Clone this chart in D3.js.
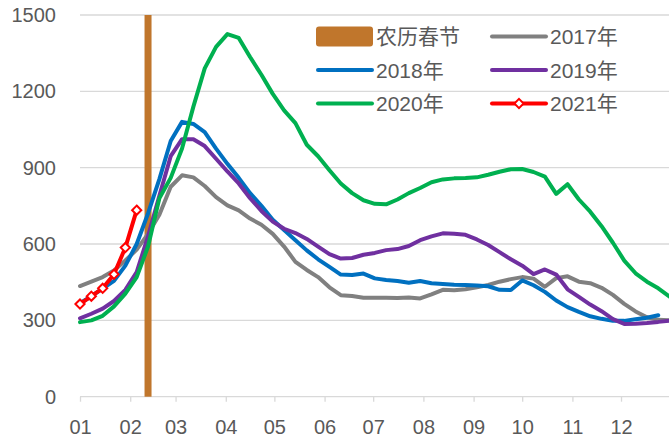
<!DOCTYPE html>
<html>
<head>
<meta charset="utf-8">
<script src="https://cdn.jsdelivr.net/npm/d3@7"></script>
<style>
  html, body { margin: 0; padding: 0; background: #ffffff; }
  svg { display: block; }
  text { font-family: "Liberation Sans", "Noto Sans CJK SC", sans-serif; fill: #595959; }
</style>
</head>
<body>
<svg id="chart" width="669" height="444"></svg>
<script>
// Weekly series, one value per week starting on 1 January
const weekStart = new Date(Date.UTC(2017, 0, 1));

const series2017 = [435, 452, 470, 496, 535, 578, 640, 715, 825, 870, 862, 828, 784, 752, 732, 700,
  676, 640, 590, 530, 498, 470, 430, 399, 396, 389, 389, 389, 388, 390, 386, 402, 420, 418, 422, 430,
  439, 452, 462, 470, 464, 432, 466, 473, 452, 446, 428, 400, 365, 335, 312, 302, 300];
const series2018 = [367, 395, 425, 455, 515, 600, 720, 855, 1005, 1080, 1072, 1040, 975, 915, 860, 800,
  750, 695, 655, 615, 575, 540, 510, 480, 478, 484, 465, 459, 455, 448, 455, 446, 443, 440, 439, 437,
  434, 420, 419, 457, 438, 412, 378, 352, 333, 316, 306, 298, 298, 304, 310, 320];
const series2019 = [308, 326, 346, 376, 420, 490, 630, 790, 945, 1012, 1012, 985, 935, 885, 838, 780,
  730, 688, 660, 643, 620, 590, 560, 543, 545, 558, 565, 576, 580, 592, 615, 630, 642, 640, 636, 618,
  596, 568, 540, 515, 482, 500, 480, 422, 392, 362, 336, 305, 286, 287, 290, 294, 299];
const series2020 = [293, 300, 318, 355, 405, 470, 590, 780, 860, 975, 1140, 1290, 1375, 1425, 1410, 1335,
  1265, 1190, 1125, 1075, 990, 945, 890, 838, 800, 772, 758, 756, 775, 800, 820, 843, 854, 858, 859, 862,
  872, 884, 894, 895, 883, 865, 797, 835, 775, 727, 670, 605, 535, 485, 452, 426, 393];
const series2021 = [364, 395, 426, 481, 586, 733];

const seriesNames = ["2017年", "2018年", "2019年", "2020年", "2021年"];
const seriesColors = ["#808080", "#0070C0", "#7030A0", "#00B050", "#FF0000"];
const springFestivalName = "农历春节";
const springFestivalDate = new Date(Date.UTC(2017, 1, 12));
const springFestivalValue = 1500;

const yTicks = [0, 300, 600, 900, 1200, 1500];

const allSeries = [series2017, series2018, series2019, series2020, series2021];

const svg = d3.select("#chart");

const x = d3.scaleUtc()
  .domain([new Date(Date.UTC(2017, 0, 1)), new Date(Date.UTC(2017, 11, 31))])
  .range([80, 669.6]);
const y = d3.scaleLinear().domain([0, 1500]).range([396.7, 15]);

const weekDate = i => d3.utcDay.offset(weekStart, 7 * i);

// Horizontal gridlines
svg.append("g")
  .selectAll("line")
  .data(yTicks.filter(d => d > 0))
  .join("line")
  .attr("x1", 80).attr("x2", 669)
  .attr("y1", d => y(d)).attr("y2", d => y(d))
  .attr("stroke", "#d9d9d9").attr("stroke-width", 1.3);

// Y axis labels
const yAxis = d3.axisLeft(y).tickValues(yTicks).tickSize(0).tickPadding(0).tickFormat(d3.format("d"));
const gy = svg.append("g").attr("transform", "translate(56,0)").call(yAxis);
gy.select(".domain").remove();
gy.selectAll("text").attr("font-size", 20).attr("fill", "#595959")
  .style("font-family", "'Liberation Sans', sans-serif");

// X axis (month starts)
const xAxis = d3.axisBottom(x)
  .ticks(d3.utcMonth.every(1))
  .tickFormat(d3.utcFormat("%m"))
  .tickSize(5).tickPadding(18);
const gx = svg.append("g").attr("transform", `translate(0,${y(0)})`).call(xAxis);
gx.select(".domain").attr("d", `M80,0H669`).attr("stroke", "#d9d9d9").attr("stroke-width", 1.3);
gx.selectAll(".tick line").attr("stroke", "#d9d9d9").attr("stroke-width", 1.3);
gx.selectAll("text").attr("font-size", 20).attr("fill", "#595959")
  .style("font-family", "'Liberation Sans', sans-serif");

// Spring festival marker bar
const barWidth = 7;
svg.append("rect")
  .attr("x", x(springFestivalDate) - barWidth / 2)
  .attr("y", y(springFestivalValue))
  .attr("width", barWidth)
  .attr("height", y(0) - y(springFestivalValue))
  .attr("fill", "#C0762C");

// Series lines
const line = d3.line()
  .x((d, i) => x(weekDate(i)))
  .y(d => y(d))
  .curve(d3.curveLinear);

allSeries.forEach((s, k) => {
  svg.append("path")
    .datum(s)
    .attr("d", line)
    .attr("fill", "none")
    .attr("stroke", seriesColors[k])
    .attr("stroke-width", 4)
    .attr("stroke-linejoin", "round")
    .attr("stroke-linecap", "round");
});

// Diamond markers for 2021
const diamond = r => `M0,${-r}L${r},0L0,${r}L${-r},0Z`;
svg.append("g")
  .selectAll("path")
  .data(series2021)
  .join("path")
  .attr("transform", (d, i) => `translate(${x(weekDate(i))},${y(d)})`)
  .attr("d", diamond(4.6))
  .attr("fill", "#ffffff")
  .attr("stroke", "#FF0000")
  .attr("stroke-width", 2);

// Legend
const legendItems = [
  { name: springFestivalName, type: "bar", color: "#C0762C" },
  { name: seriesNames[0], type: "line", color: seriesColors[0] },
  { name: seriesNames[1], type: "line", color: seriesColors[1] },
  { name: seriesNames[2], type: "line", color: seriesColors[2] },
  { name: seriesNames[3], type: "line", color: seriesColors[3] },
  { name: seriesNames[4], type: "marker", color: seriesColors[4] }
];
const colX = [317, 491];
const rowY = [36.5, 70, 103.5];
const legend = svg.append("g");
legendItems.forEach((it, i) => {
  const cx = colX[i % 2];
  const cy = rowY[Math.floor(i / 2)];
  const g = legend.append("g").attr("transform", `translate(${cx},${cy})`);
  if (it.type === "bar") {
    g.append("rect").attr("x", -1).attr("y", -10).attr("width", 57).attr("height", 20)
      .attr("rx", 3).attr("fill", it.color);
  } else {
    g.append("line").attr("x1", 1).attr("x2", 55).attr("y1", 0).attr("y2", 0)
      .attr("stroke", it.color).attr("stroke-width", 4).attr("stroke-linecap", "round");
    if (it.type === "marker") {
      g.append("path").attr("transform", "translate(28,0)").attr("d", diamond(4.6))
        .attr("fill", "#ffffff").attr("stroke", it.color).attr("stroke-width", 2);
    }
  }
  g.append("text").attr("x", 59).attr("y", 0).attr("dy", "0.36em")
    .attr("font-size", 21).text(it.name);
});
</script>
</body>
</html>
